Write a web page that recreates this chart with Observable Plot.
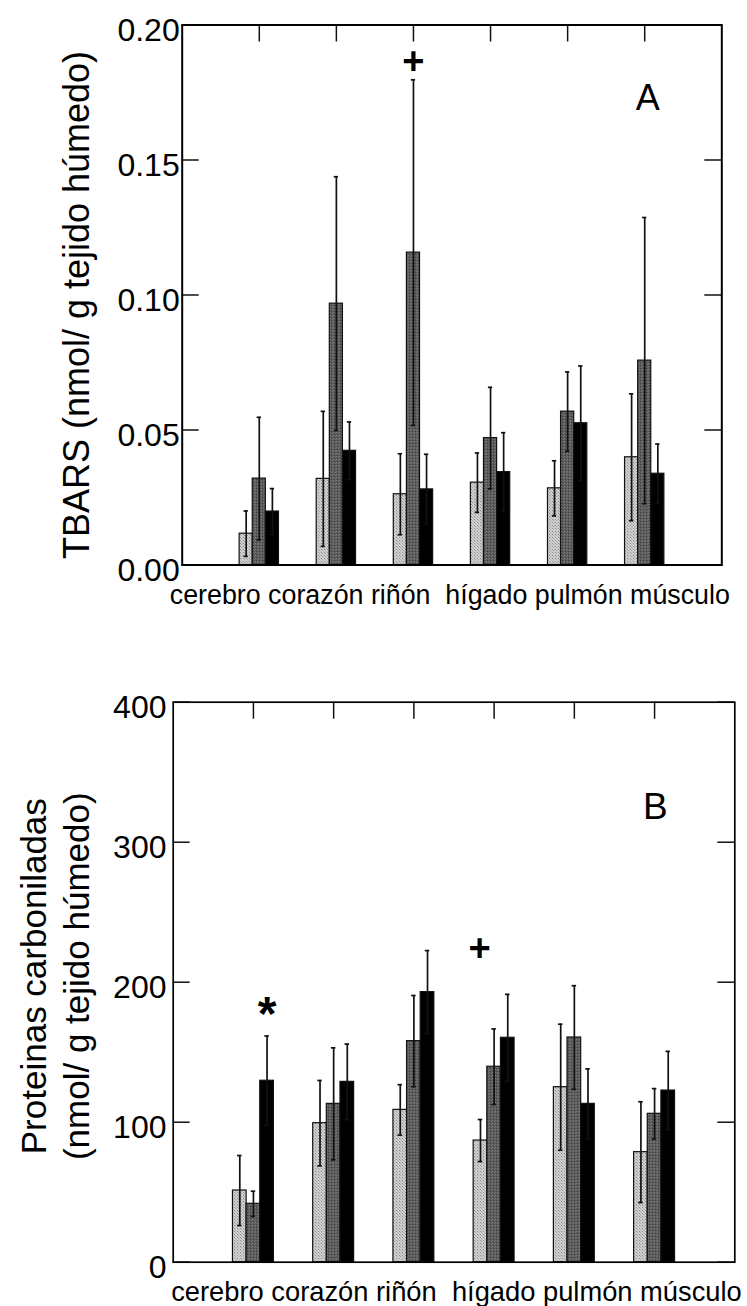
<!DOCTYPE html>
<html>
<head>
<meta charset="utf-8">
<script src="https://cdn.jsdelivr.net/npm/d3@7"></script>
<script src="https://cdn.jsdelivr.net/npm/@observablehq/plot@0.6"></script>
<style>
  html, body { margin: 0; padding: 0; background: #fff; }
  #chart { width: 747px; height: 1306px; overflow: hidden; position: relative; background: #fff; }
  #chart svg { display: block; }
</style>
</head>
<body>
<svg width="0" height="0" style="position:absolute">
  <defs>
    <pattern id="pLight" width="3" height="3" patternUnits="userSpaceOnUse">
      <rect width="3" height="3" fill="#d0d0d0"/>
      <rect x="0" y="0" width="1" height="1" fill="#8a8a8a"/>
      <rect x="1" y="1" width="1" height="1" fill="#a6a6a6"/>
      <rect x="2" y="2" width="1" height="1" fill="#bababa"/>
    </pattern>
    <pattern id="pDark" width="3" height="3" patternUnits="userSpaceOnUse">
      <rect width="3" height="3" fill="#5c5c5c"/>
      <rect x="0" y="0" width="1" height="1" fill="#7c7c7c"/>
      <rect x="1" y="2" width="1" height="1" fill="#3c3c3c"/>
      <rect x="2" y="1" width="1" height="1" fill="#707070"/>
    </pattern>
  </defs>
</svg>
<div id="chart"></div>
<script>
// ---------------- data ----------------
const categories = ["cerebro", "corazón", "riñón", "hígado", "pulmón", "músculo"];
const xLabelSeparators = [" ", " ", " \u00a0", " ", " "];
const xTicks = [1, 2, 3, 4, 5, 6];

// Panel A: TBARS
const tbarsMean1 = [0.0116, 0.0319, 0.0262, 0.0305, 0.0284, 0.0399];
const tbarsSd1   = [0.0084, 0.0250, 0.0150, 0.0110, 0.0102, 0.0235];
const tbarsMean2 = [0.0320, 0.0968, 0.1157, 0.0470, 0.0568, 0.0757];
const tbarsSd2   = [0.0227, 0.0470, 0.0640, 0.0188, 0.0147, 0.0530];
const tbarsMean3 = [0.0198, 0.0423, 0.0280, 0.0344, 0.0525, 0.0338];
const tbarsSd3   = [0.0085, 0.0107, 0.0130, 0.0146, 0.0212, 0.0110];
const yTicksA = [0, 0.05, 0.10, 0.15, 0.20];
const yTitleA = "TBARS (nmol/ g tejido húmedo)";
const annotA = [{x: 3, y: 0.1862, text: "+"}];
const panelLabelA = [{x: 6.04, y: 0.1686, text: "A"}];

// Panel B: Proteínas carboniladas
const protMean1 = [51.2, 99.3, 108.8, 86.9, 125.0, 78.6];
const protSd1   = [25.0, 30.5, 18.0, 15.0, 45.0, 36.0];
const protMean2 = [41.7, 113.1, 157.9, 139.6, 160.5, 106.0];
const protSd2   = [9.0, 40.0, 32.6, 27.0, 37.0, 18.0];
const protMean3 = [129.6, 128.8, 192.9, 160.3, 113.1, 122.6];
const protSd3   = [32.0, 27.0, 29.7, 31.0, 25.0, 28.0];
const yTicksB = [0, 100, 200, 300, 400];
const yTitleB = "Proteinas carboniladas\n(nmol/ g tejido húmedo)";
const annotB = [{x: 3.82, y: 223.9, text: "+"}, {x: 1.17, y: 185.7, text: "*"}];
const panelLabelB = [{x: 6.01, y: 316.7, text: "B"}];

const seriesFills = ["url(#pLight)", "url(#pDark)", "#000"];

// ---------------- helpers ----------------
const FONT = "'Liberation Sans', Arial, Helvetica, sans-serif";
const barW = 0.17;
const capW = 0.028;

function buildRows(means, sds) {
  const rows = [];
  means.forEach((m, s) => m.forEach((v, i) => rows.push({
    cat: categories[i], s, pos: xTicks[i] + (s - 1) * barW, v, sd: sds[s][i]
  })));
  return rows;
}

const labelLine = categories.map((c, i) => c + (i < xLabelSeparators.length ? xLabelSeparators[i] : "")).join("");

function panel(cfg) {
  const W = 747;
  const innerW = W - cfg.mL - cfg.mR;
  const innerH = cfg.h - cfg.mT - cfg.mB;
  const rows = buildRows(cfg.means, cfg.sds);
  const marks = [];
  seriesFills.forEach((f, s) => {
    marks.push(Plot.rectY(rows.filter(d => d.s === s), {
      x1: d => d.pos - barW / 2, x2: d => d.pos + barW / 2, y1: 0, y2: "v",
      fill: f, stroke: "#111", strokeWidth: 1.2
    }));
  });
  marks.push(
    Plot.ruleX(rows, {x: "pos", y1: d => d.v - d.sd, y2: d => d.v + d.sd, stroke: "#111", strokeWidth: 1.7}),
    Plot.ruleY(rows, {y: d => d.v + d.sd, x1: d => d.pos - capW, x2: d => d.pos + capW, stroke: "#111", strokeWidth: 1.7}),
    Plot.ruleY(rows, {y: d => d.v - d.sd, x1: d => d.pos - capW, x2: d => d.pos + capW, stroke: "#111", strokeWidth: 1.7}),
    Plot.tickX(xTicks, {x: d => d, insetBottom: innerH - 17, stroke: "#111", strokeWidth: 1.5}),
    Plot.tickY(cfg.yTicks, {y: d => d, insetRight: innerW - 17, stroke: "#111", strokeWidth: 1.5}),
    Plot.tickY(cfg.yTicks, {y: d => d, insetLeft: innerW - 17, stroke: "#111", strokeWidth: 1.5}),
    Plot.frame({stroke: "#000", strokeWidth: cfg.frameW}),
    Plot.axisY({ticks: cfg.yTicks, tickFormat: cfg.fmt, tickSize: 0, tickPadding: cfg.tickPad,
      fontSize: cfg.tickFont, dy: 6, label: null, fill: "#000"}),
    Plot.text([cfg.title], {text: d => d, frameAnchor: "left", rotate: -90, dx: cfg.titleX - cfg.mL, dy: cfg.titleDy,
      fontSize: cfg.titleFont, textAnchor: "middle", lineAnchor: "middle", lineHeight: cfg.titleLH, fill: "#000"}),
    Plot.text([labelLine], {text: d => d, frameAnchor: "bottom-left", textAnchor: "start", lineAnchor: "bottom",
      dx: cfg.labX - cfg.mL, dy: cfg.labBase - (cfg.h - cfg.mB), fontSize: cfg.labFont, fill: "#000"}),
    Plot.text(cfg.annot.filter(d => d.text === "+"), {x: "x", y: "y", text: "text", fontSize: 38, fontWeight: "bold", lineAnchor: "middle", fill: "#000"}),
    Plot.text(cfg.annot.filter(d => d.text === "*"), {x: "x", y: "y", text: "text", fontSize: 48, fontWeight: "bold", lineAnchor: "middle", dy: 12, fill: "#000"}),
    Plot.text(cfg.panelLabel, {x: "x", y: "y", text: "text", fontSize: cfg.panelFont, lineAnchor: "bottom", fill: "#000"})
  );
  return Plot.plot({
    width: W, height: cfg.h,
    marginTop: cfg.mT, marginBottom: cfg.mB, marginLeft: cfg.mL, marginRight: cfg.mR,
    x: {domain: [0, 7], axis: null},
    y: {domain: cfg.yDomain, axis: null},
    style: {fontFamily: FONT, fontSize: "30px", background: "#fff", color: "#000"},
    marks
  });
}

const chart = document.getElementById("chart");

chart.append(panel({
  h: 640, mT: 24.5, mB: 640 - 564.5, mL: 181.7, mR: 747 - 721.3,
  means: [tbarsMean1, tbarsMean2, tbarsMean3], sds: [tbarsSd1, tbarsSd2, tbarsSd3],
  yDomain: [0, 0.2], yTicks: yTicksA, fmt: d => d.toFixed(2),
  tickFont: 32, tickPad: 2.5, frameW: 2,
  title: yTitleA, titleX: 75, titleDy: 10, titleFont: 36, titleLH: 1.2,
  labX: 169.3, labBase: 603, labFont: 26.8,
  annot: annotA, panelLabel: panelLabelA, panelFont: 36
}));

chart.append(panel({
  h: 666, mT: 701.7 - 640, mB: 1306 - 1261.7, mL: 172.7, mR: 747 - 734.3,
  means: [protMean1, protMean2, protMean3], sds: [protSd1, protSd2, protSd3],
  yDomain: [0, 400], yTicks: yTicksB, fmt: d => String(d),
  tickFont: 32, tickPad: 6.7, frameW: 1.7,
  title: yTitleB, titleX: 53.4, titleDy: -6, titleFont: 35, titleLH: 1.24,
  labX: 170.7, labBase: 1300 - 640, labFont: 27.3,
  annot: annotB, panelLabel: panelLabelB, panelFont: 37
}));
</script>
</body>
</html>
